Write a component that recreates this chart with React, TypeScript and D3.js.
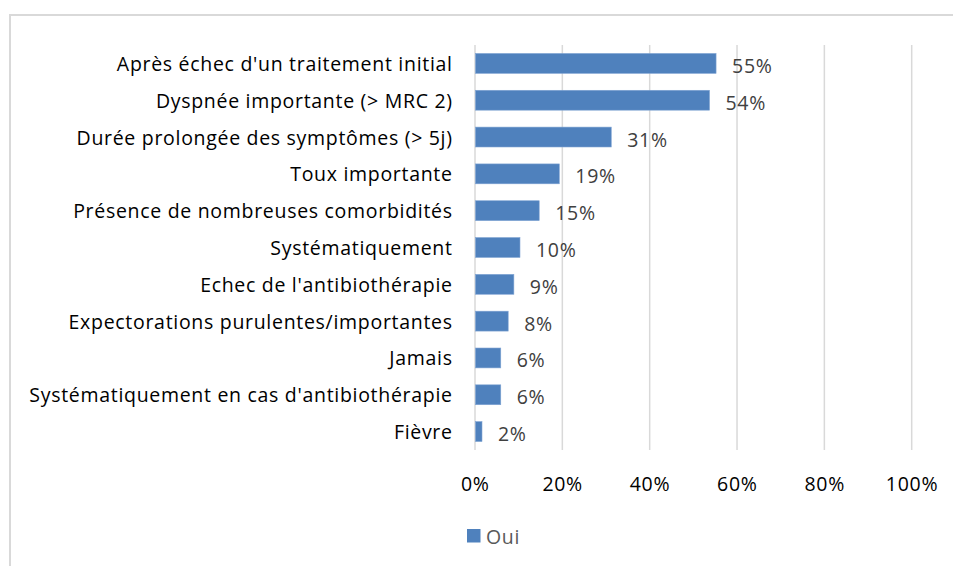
import React from "react";
import * as d3 from "d3";

const categories = [
  "Après échec d'un traitement initial",
  "Dyspnée importante (> MRC 2)",
  "Durée prolongée des symptômes (> 5j)",
  "Toux importante",
  "Présence de nombreuses comorbidités",
  "Systématiquement",
  "Echec de l'antibiothérapie",
  "Expectorations purulentes/importantes",
  "Jamais",
  "Systématiquement en cas d'antibiothérapie",
  "Fièvre",
];
const values = [0.552, 0.537, 0.312, 0.193, 0.147, 0.103, 0.089, 0.076, 0.059, 0.059, 0.016];
const xTicks = [0, 0.2, 0.4, 0.6, 0.8, 1.0];
const seriesName = "Oui";

const W = 953;
const H = 566;
const FONT = "'Open Sans', sans-serif";
const FS = 19.5;
const LS = 0.7;

export default function App() {
  const x = d3.scaleLinear().domain([0, 1]).range([475, 911.7]);
  const y = d3.scaleBand().domain(categories).range([45, 450]).paddingInner(0.46).paddingOuter(0.23);
  const pct = d3.format(".0%");
  return (
    <svg width={W} height={H} style={{ position: "absolute", left: 0, top: 0 }} fontFamily={FONT} letterSpacing={LS}>
      <rect x={0} y={0} width={W} height={H} fill="#fff" />
      <path d={`M10,${H} V15 H${W}`} fill="none" stroke="#D9D9D9" strokeWidth={2} />
      {xTicks.map((t) => (
        <line key={t} x1={x(t)} x2={x(t)} y1={45} y2={450} stroke="#D9D9D9" strokeWidth={1.5} />
      ))}
      {categories.map((c, i) => (
        <g key={c}>
          <rect x={x(0) + 0.5} y={y(c)!} width={x(values[i]) - x(0) - 0.5} height={y.bandwidth()} fill="#4F81BD" stroke="#7FA3D3" strokeWidth={0.6} />
          <text x={452.7} y={y(c)! + y.bandwidth() / 2} textAnchor="end" dominantBaseline="central" fontSize={FS} fill="#000">
            {c}
          </text>
          <text x={x(values[i]) + 16} y={y(c)! + y.bandwidth() / 2 + 2} dominantBaseline="central" fontSize={FS} fill="#404040">
            {pct(values[i])}
          </text>
        </g>
      ))}
      {xTicks.map((t) => (
        <text key={t} x={x(t) + LS / 2} y={483} textAnchor="middle" dominantBaseline="central" fontSize={FS} fill="#000">
          {pct(t)}
        </text>
      ))}
      <rect x={467} y={529} width={13.5} height={13.5} fill="#4F81BD" />
      <text x={486} y={536} dominantBaseline="central" fontSize={FS} fill="#595959">
        {seriesName}
      </text>
    </svg>
  );
}
